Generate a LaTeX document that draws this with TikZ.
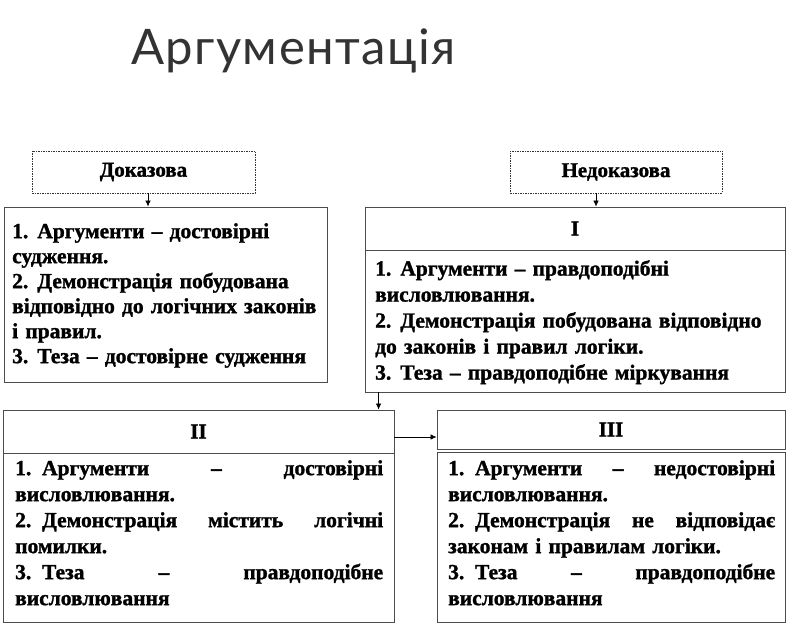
\documentclass[tikz,border=0pt]{standalone}
\usepackage{fontspec}
\setmainfont{Liberation Serif}[BoldFeatures={FakeBold=1.3}]
\newfontfamily\titlefont{Lato}[LetterSpace=3]
\usetikzlibrary{arrows.meta}
\newcommand{\numgap}{\hspace{9pt}}
\begin{document}
\begin{tikzpicture}[x=1pt,y=-1pt,
  frame/.style={draw=black!70, line width=0.9pt, inner sep=0pt},
  dashbox/.style={draw=black!80, dash pattern=on 1.5pt off 1pt, line width=0.6pt, inner sep=0pt, font=\bfseries\fontsize{21}{24}\selectfont},
  body/.style={anchor=north west, inner sep=0pt, align=left, font=\bfseries\fontsize{21.5}{25}\selectfont},
  head/.style={frame, font=\bfseries\fontsize{21}{24}\selectfont},
  arr/.style={-{Latex[length=6pt,width=5.5pt]}, line width=0.7pt, black}
]
\useasboundingbox (0,0) rectangle (810,628);
\node[font=\titlefont\fontsize{49}{52}\selectfont, text=black!80, anchor=base west, inner sep=0pt] (title) at (131,65) {Аргументація};

\node[dashbox, minimum width=223pt, minimum height=42pt] (dok) at (143.5,172) {Доказова};
\node[dashbox, minimum width=212pt, minimum height=42pt] (nedok) at (616,172) {Недоказова};

\node[frame, minimum width=323pt, minimum height=175pt] (b1) at (165.5,294.5) {};
\node[body, text width=318pt] (t1) at (12,223) {1.\numgap Аргументи – достовірні\\
судження.\\
2.\numgap Демонстрація побудована\\
відповідно до логічних законів\\
і правил.\\
3.\numgap Теза – достовірне судження};

\node[head, minimum width=420pt, minimum height=43pt] (h1) at (575,228.5) {I};
\node[frame, minimum width=420pt, minimum height=142pt] (bI) at (575,321) {};
\node[body, text width=405pt, font=\bfseries\fontsize{21.5}{26}\selectfont] (tI) at (375,260) {1.\numgap Аргументи – правдоподібні\\
висловлювання.\\
2.\numgap Демонстрація побудована відповідно\\
до законів і правил логіки.\\
3.\numgap Теза – правдоподібне міркування};

\node[head, minimum width=391pt, minimum height=43pt] (h2) at (198.5,431.5) {II};
\node[frame, minimum width=391pt, minimum height=169pt] (b2) at (198.5,537.5) {};
\node[body, text width=368pt, font=\bfseries\fontsize{21.5}{26}\selectfont] (t2) at (15,460) {1. Аргументи \hfill – \hfill достовірні\\
висловлювання.\\
2. Демонстрація \hfill містить \hfill логічні\\
помилки.\\
3. Теза \hfill – \hfill правдоподібне\\
висловлювання};

\node[head, minimum width=348pt, minimum height=39pt] (h3) at (611,429.5) {III};
\node[frame, minimum width=348pt, minimum height=170pt] (b3) at (611,537) {};
\node[body, text width=327pt, font=\bfseries\fontsize{21.5}{26}\selectfont] (t3) at (448,460) {1. Аргументи \hfill – \hfill недостовірні\\
висловлювання.\\
2. Демонстрація \hfill не \hfill відповідає\\
законам і правилам логіки.\\
3. Теза \hfill – \hfill правдоподібне\\
висловлювання};

\draw[arr] ([xshift=4.5pt]dok.south) -- ([xshift=4.5pt]dok.south |- b1.north);
\draw[arr] ([xshift=-20pt]nedok.south) -- ([xshift=-20pt]nedok.south |- h1.north);
\draw[arr] ([xshift=14pt]bI.south west) -- ([xshift=14pt]bI.south west |- h2.north);
\draw[arr] ([yshift=-5.5pt]h2.east) -- ([yshift=-5.5pt]h2.east -| h3.west);
\end{tikzpicture}
\end{document}
